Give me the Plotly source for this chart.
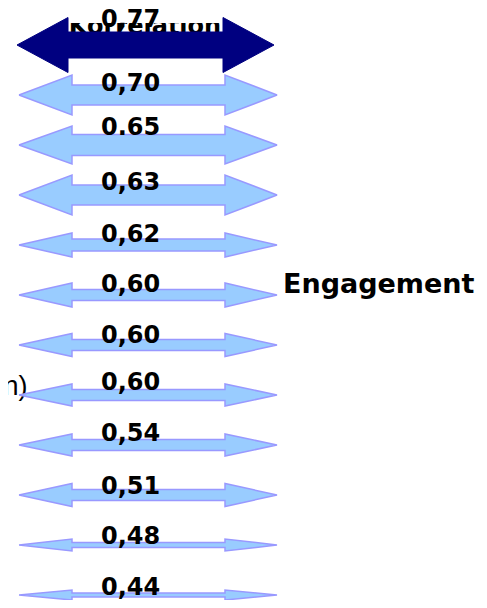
import plotly.graph_objects as go

# ---------------- data ----------------
values = [0.77, 0.70, 0.65, 0.63, 0.62, 0.60, 0.60, 0.60, 0.54, 0.51, 0.48, 0.44]
value_text = ["0,77", "0,70", "0.65", "0,63", "0,62", "0,60", "0,60", "0,60", "0,54", "0,51", "0,48", "0,44"]
top_label = "Korrelation"
right_label = "Engagement"
left_label = "(einzeln)"

# ---------------- styles ----------------
W, H = 487, 608
PAGE_MARGIN = 8        # default body margin of the html page
ROW_PX = 50.0          # pixels per row
FIRST_ROW_PX = 45.0    # page pixel centre of first row
head_px = [55, 40, 38, 40, 24, 24, 23, 22, 22, 23, 12, 10]
shaft_px = [26, 20, 21, 20, 12, 11, 11, 11, 11, 11, 5, 4]
label_dy = [-26, -12, -18, -13.5, -11, -11, -10, -13, -12, -9.5, -9, -8.5]
NAVY = "#000080"
FILL = "#99CCFF"
EDGE = "#9999FF"
FONT = "DejaVu Sans"

rows = list(range(len(values)))
u = 1.0 / ROW_PX  # y units per pixel
fig_w = W - PAGE_MARGIN
fig_h = H - 2 * PAGE_MARGIN
y_top = (PAGE_MARGIN - FIRST_ROW_PX) * u
y_bot = (PAGE_MARGIN + fig_h - FIRST_ROW_PX) * u

fig = go.Figure()

# "Korrelation" title (partly hidden behind the top arrow)
fig.add_trace(go.Scatter(
    x=[145], y=[-0.35], mode="text", text=[f"<b>{top_label}</b>"],
    textfont=dict(family=FONT, size=24, color="black"), cliponaxis=False,
    hoverinfo="skip", showlegend=False))
# left side text, cut by the page edge, behind the arrows
fig.add_trace(go.Scatter(
    x=[27.5], y=[(388.5 - FIRST_ROW_PX) * u], mode="text", text=[left_label],
    textposition="middle left", cliponaxis=False,
    textfont=dict(family="Liberation Sans", size=27, color="black"),
    hoverinfo="skip", showlegend=False))
# white label box of the top value
fig.add_trace(go.Scatter(
    x=[70, 222, 222, 70, 70],
    y=[y_top, y_top, (23 - FIRST_ROW_PX) * u, (23 - FIRST_ROW_PX) * u, y_top],
    mode="lines", fill="toself", fillcolor="white", line=dict(width=0, color="white"),
    hoverinfo="skip", showlegend=False))

for i, v in zip(rows, values):
    if i == 0:
        xl, xlb, xrb, xr = 17, 68, 223, 274
        fc, lc, lw = NAVY, NAVY, 1
    else:
        xl, xlb, xrb, xr = 19, 72, 225, 277
        fc, lc, lw = FILL, EDGE, 1.5
    hh = head_px[i] / 2 * u
    ss = shaft_px[i] / 2 * u
    y0 = i
    xs = [xl, xlb, xlb, xrb, xrb, xr, xrb, xrb, xlb, xlb, xl]
    ys = [y0, y0 - hh, y0 - ss, y0 - ss, y0 - hh, y0, y0 + hh, y0 + ss, y0 + ss, y0 + hh, y0]
    fig.add_trace(go.Scatter(
        x=xs, y=ys, mode="lines", fill="toself", fillcolor=fc,
        line=dict(color=lc, width=lw), hoverinfo="skip", showlegend=False))

annotations = []
for i, t in zip(rows, value_text):
    annotations.append(dict(
        x=130, y=i, xref="x", yref="y", text=f"<b>{t}</b>", showarrow=False,
        xanchor="center", yanchor="middle", yshift=-label_dy[i],
        font=dict(family=FONT, size=24, color="black")))
annotations.append(dict(
    x=281, y=5, xref="x", yref="y", text=f"<b>{right_label}</b>", showarrow=False,
    xanchor="left", yanchor="middle", yshift=11.5,
    font=dict(family=FONT, size=27, color="black")))

fig.update_layout(
    width=fig_w, height=fig_h, margin=dict(l=0, r=0, t=0, b=0),
    paper_bgcolor="white", plot_bgcolor="white",
    xaxis=dict(range=[PAGE_MARGIN, PAGE_MARGIN + fig_w], visible=False, fixedrange=True),
    yaxis=dict(range=[y_bot, y_top], visible=False, fixedrange=True),
    annotations=annotations, showlegend=False)

fig.write_html("out.html", config={"displayModeBar": False})
